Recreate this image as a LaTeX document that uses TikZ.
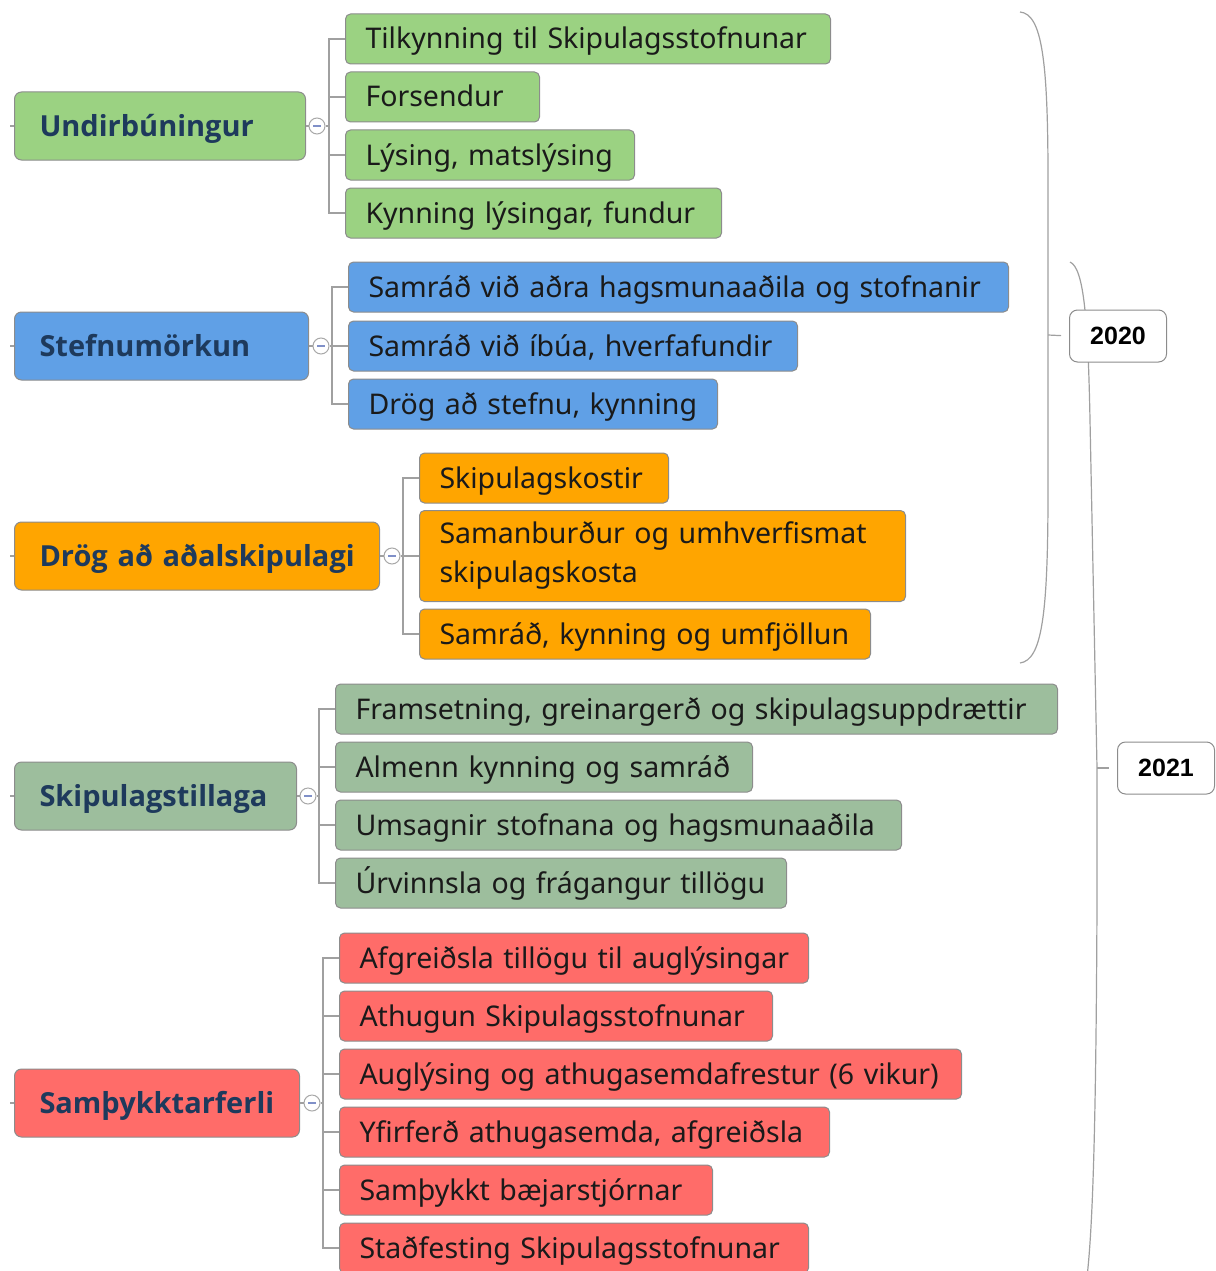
\documentclass[tikz,border=0pt]{standalone}
\usepackage{fontspec}
\setmainfont{Noto Sans}
\newfontfamily\topicfont{Open Sans}
\newfontfamily\yearfont{Liberation Sans}
\usetikzlibrary{positioning}
\definecolor{undgreen}{HTML}{9BD282}
\definecolor{stefblue}{HTML}{60A0E6}
\definecolor{drogorange}{HTML}{FFA500}
\definecolor{tillsage}{HTML}{9DBE9D}
\definecolor{sambred}{HTML}{FF6C69}
\definecolor{boxgray}{HTML}{8C8C8C}
\definecolor{linegray}{HTML}{A0A0A0}
\definecolor{knobgray}{HTML}{A8A8A8}
\definecolor{minusblue}{HTML}{8090C8}
\definecolor{topicnavy}{HTML}{1E3A5C}
\definecolor{textdark}{HTML}{1A1A1A}
\tikzset{
  boxbase/.style={draw=boxgray, line width=1pt, anchor=west, inner ysep=0pt, align=left},
  topic/.style={boxbase, rounded corners=7pt, minimum height=68pt, inner xsep=25pt,
    text width=#1, text height=27pt, text depth=6pt,
    text=topicnavy, font=\topicfont\fontsize{29}{34}\selectfont\bfseries,
    execute at begin node=\hbox\bgroup, execute at end node=\egroup},
  subbox/.style={boxbase, rounded corners=5pt, minimum height=50pt, inner xsep=20pt,
    text width=#1, text height=26pt, text depth=6pt,
    text=textdark, font=\fontsize{28.5}{39}\selectfont,
    execute at begin node=\hbox\bgroup, execute at end node=\egroup},
  twoline/.style={boxbase, rounded corners=5pt, minimum height=91pt, inner xsep=20pt,
    text width=#1, text=textdark, font=\fontsize{28.5}{39}\selectfont},
  knob/.style={circle, draw=knobgray, fill=white, minimum size=16pt, inner sep=0pt, line width=1pt,
    path picture={\draw[minusblue, line width=1.2pt]
      ([xshift=-4pt]path picture bounding box.center) -- ([xshift=4pt]path picture bounding box.center);}},
  branch/.style={draw=linegray, line width=1.5pt},
  bracket/.style={draw=linegray, line width=1.2pt},
  yearbox/.style={draw=boxgray, fill=white, rounded corners=8pt, line width=1pt,
    minimum width=97pt, minimum height=52pt, inner sep=0pt,
    font=\yearfont\fontsize{25}{30}\selectfont\bfseries}
}
\begin{document}
\begin{tikzpicture}[x=1pt, y=-1pt]
  \useasboundingbox (0,0) rectangle (1215,1271);

  % brackets for the years
  \coordinate (b20) at (1048,335);
  \coordinate (b21) at (1097,768);
  \draw[bracket] (1020,12) .. controls (1042,14) and (1048,60) .. (1048,180) -- (b20)
    -- (1048,490) .. controls (1048,615) and (1042,660) .. (1020,663);
  \draw[bracket] (1070,262) .. controls (1084,268) and (1088,320) .. (1090,420) -- (b21)
    -- (1097,900) .. controls (1096,1150) and (1092,1240) .. (1086,1285);
  \node[yearbox] (y20) at (1118,336) {2020};
  \node[yearbox] (y21) at (1166,768) {2021};
  \draw[bracket, shorten >=8pt] (b20) -- (y20.west);
  \draw[bracket, shorten >=8pt] (b21) -- (y21.west);

  % main topics
  \node[topic=241, fill=undgreen] (und) at (14,126) {Undirbúningur};
  \node[topic=244, fill=stefblue] (stef) at (14,346) {Stefnumörkun};
  \node[topic=315, fill=drogorange] (drog) at (14,556) {Drög að aðalskipulagi};
  \node[topic=232, fill=tillsage] (till) at (14,796) {Skipulagstillaga};
  \node[topic=235, fill=sambred] (samb) at (14,1103) {Samþykktarferli};

  % Undirbúningur
  \node[subbox=445, fill=undgreen] (u1) at (345,39) {Tilkynning til Skipulagsstofnunar};
  \node[subbox=154, fill=undgreen] (u2) at (345,97) {Forsendur};
  \node[subbox=249, fill=undgreen] (u3) at (345,155) {Lýsing, matslýsing};
  \node[subbox=336, fill=undgreen] (u4) at (345,213) {Kynning lýsingar, fundur};

  % Stefnumörkun
  \node[subbox=620, fill=stefblue] (s1) at (348,287) {Samráð við aðra hagsmunaaðila og stofnanir};
  \node[subbox=409, fill=stefblue] (s2) at (348,346) {Samráð við íbúa, hverfafundir};
  \node[subbox=329, fill=stefblue] (s3) at (348,404) {Drög að stefnu, kynning};

  % Drög að aðalskipulagi
  \node[subbox=209, fill=drogorange] (d1) at (419,478) {Skipulagskostir};
  \node[twoline=446, fill=drogorange] (d2) at (419,556) {Samanburður og umhverfismat\\skipulagskosta};
  \node[subbox=411, fill=drogorange] (d3) at (419,634) {Samráð, kynning og umfjöllun};

  % Skipulagstillaga
  \node[subbox=682, fill=tillsage] (t1) at (335,709) {Framsetning, greinargerð og skipulagsuppdrættir};
  \node[subbox=377, fill=tillsage] (t2) at (335,767) {Almenn kynning og samráð};
  \node[subbox=526, fill=tillsage] (t3) at (335,825) {Umsagnir stofnana og hagsmunaaðila};
  \node[subbox=411, fill=tillsage] (t4) at (335,883) {Úrvinnsla og frágangur tillögu};

  % Samþykktarferli
  \node[subbox=429, fill=sambred] (a1) at (339,958) {Afgreiðsla tillögu til auglýsingar};
  \node[subbox=393, fill=sambred] (a2) at (339,1016) {Athugun Skipulagsstofnunar};
  \node[subbox=582, fill=sambred] (a3) at (339,1074) {Auglýsing og athugasemdafrestur (6 vikur)};
  \node[subbox=450, fill=sambred] (a4) at (339,1132) {Yfirferð athugasemda, afgreiðsla};
  \node[subbox=333, fill=sambred] (a5) at (339,1190) {Samþykkt bæjarstjórnar};
  \node[subbox=429, fill=sambred] (a6) at (339,1248) {Staðfesting Skipulagsstofnunar};

  % knobs and branches
  \node[knob] (ku) at (317,126) {};
  \node[knob] (ks) at (321,346) {};
  \node[knob] (kd) at (392,556) {};
  \node[knob] (kt) at (308,796) {};
  \node[knob] (ka) at (312,1103) {};
  \coordinate (su) at (329,126);
  \coordinate (ss) at (332,346);
  \coordinate (sd) at (403,556);
  \coordinate (st) at (319,796);
  \coordinate (sa) at (323,1103);

  \draw[branch] (und.west) -- ++(-4,0) (stef.west) -- ++(-4,0) (drog.west) -- ++(-4,0)
    (till.west) -- ++(-4,0) (samb.west) -- ++(-4,0);
  \draw[branch] (und) -- (ku) (ku) -- (su);
  \draw[branch] (stef) -- (ks) (ks) -- (ss);
  \draw[branch] (drog) -- (kd) (kd) -- (sd);
  \draw[branch] (till) -- (kt) (kt) -- (st);
  \draw[branch] (samb) -- (ka) (ka) -- (sa);
  \foreach \c in {u1,u2,u3,u4} \draw[branch] (su) |- (\c.west);
  \foreach \c in {s1,s2,s3} \draw[branch] (ss) |- (\c.west);
  \foreach \c in {d1,d2,d3} \draw[branch] (sd) |- (\c.west);
  \foreach \c in {t1,t2,t3,t4} \draw[branch] (st) |- (\c.west);
  \foreach \c in {a1,a2,a3,a4,a5,a6} \draw[branch] (sa) |- (\c.west);
\end{tikzpicture}
\end{document}
